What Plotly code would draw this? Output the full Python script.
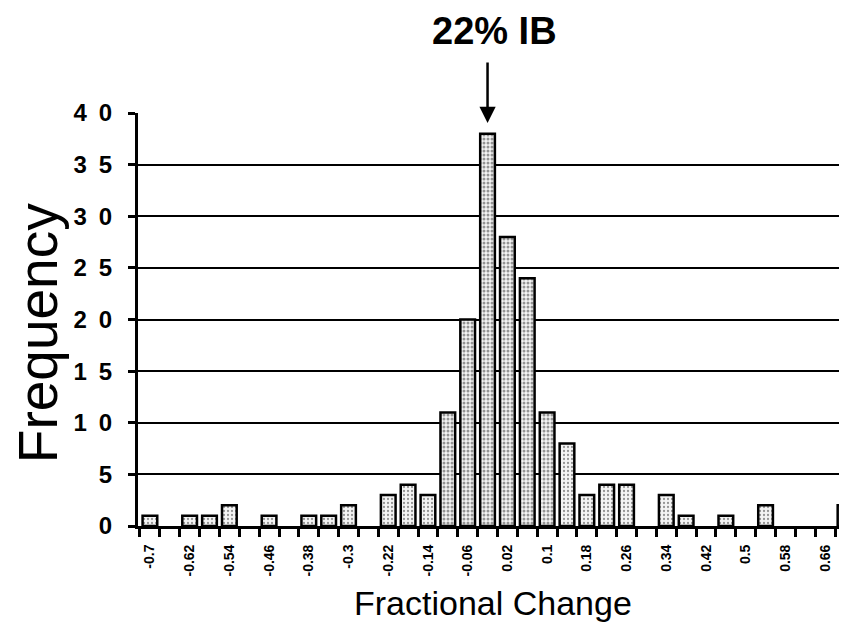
import plotly.graph_objects as go

categories = ["-0.7", "-0.66", "-0.62", "-0.58", "-0.54", "-0.5", "-0.46", "-0.42",
              "-0.38", "-0.34", "-0.3", "-0.26", "-0.22", "-0.18", "-0.14", "-0.1",
              "-0.06", "-0.02", "0.02", "0.06", "0.1", "0.14", "0.18", "0.22",
              "0.26", "0.3", "0.34", "0.38", "0.42", "0.46", "0.5", "0.54",
              "0.58", "0.62", "0.66", "0.7"]
frequency = [1, 0, 1, 1, 2, 0, 1, 0,
             1, 1, 2, 0, 3, 4, 3, 11,
             20, 38, 28, 24, 11, 8, 3, 4,
             4, 0, 3, 1, 0, 1, 0, 2,
             0, 0, 0, 2]
y_ticks = [0, 5, 10, 15, 20, 25, 30, 35, 40]
y_ticktext = ["0", "5", "1\u20020", "1\u20025", "2\u20020", "2\u20025",
              "3\u20020", "3\u20025", "4\u20020"]

FONT = "Liberation Sans, Arial, sans-serif"

pos = list(range(len(categories)))
label_pos = [p for p in pos if p % 2 == 0]
label_text = [categories[p] for p in label_pos]
boundaries = [p - 0.5 for p in pos] + [pos[-1] + 0.5]

solidity = [0.25 if v < 10 else 0.45 for v in frequency]
line_w = [0 if v == 0 else 2.5 for v in frequency]

fig = go.Figure()
fig.add_trace(go.Bar(
    x=pos, y=frequency,
    marker=dict(color="white",
                line=dict(color="black", width=line_w),
                pattern=dict(shape=".", fgcolor="#333", bgcolor="#f4f4f4",
                             size=4, solidity=solidity)),
    width=0.74,
    showlegend=False,
    hovertext=categories,
))

fig.update_layout(
    width=839, height=619,
    margin=dict(l=130, r=0, t=105, b=101),
    plot_bgcolor="white", paper_bgcolor="white",
    xaxis=dict(
        range=[-0.6, 35.1],
        tickmode="array", tickvals=label_pos, ticktext=label_text,
        ticks="outside", ticklen=8, tickwidth=0, tickcolor="white",
        ticklabelstandoff=2,
        minor=dict(tickmode="array", tickvals=boundaries, ticks="outside",
                   ticklen=8, tickwidth=3, tickcolor="black", showgrid=False),
        tickangle=-90, tickfont=dict(family=FONT, size=14, color="black", weight="bold"),
        showline=True, linecolor="black", linewidth=3,
        showgrid=False, zeroline=False,
    ),
    yaxis=dict(
        range=[0, 40], tickmode="array", tickvals=y_ticks, ticktext=y_ticktext,
        ticks="outside", ticklen=7, tickwidth=3, tickcolor="black",
        tickfont=dict(family=FONT, size=24, color="black", weight="bold"),
        ticklabelstandoff=11,
        showline=True, linecolor="black", linewidth=3,
        showgrid=True, gridcolor="black", gridwidth=2,
        zeroline=False,
    ),
    annotations=[
        dict(x=17, y=40, xref="x", yref="y", text="", showarrow=True,
             ax=0, ay=-62, axref="pixel", ayref="pixel",
             arrowhead=2, arrowsize=1.3, arrowwidth=2.5, arrowcolor="black",
             yshift=-10),
        dict(x=0.5, y=1.2, xref="paper", yref="paper", text="<b>22% IB</b>",
             showarrow=False, font=dict(family=FONT, size=38, color="black"),
             xanchor="center", yanchor="middle", xshift=2, yshift=-1),
        dict(x=0.5, y=-0.186, xref="paper", yref="paper", text="Fractional Change",
             showarrow=False, font=dict(family=FONT, size=34, color="black"),
             xanchor="center", yanchor="middle"),
        dict(x=-0.141, y=0.467, xref="paper", yref="paper", text="Frequency",
             showarrow=False, textangle=-90,
             font=dict(family=FONT, size=55, color="black"),
             xanchor="center", yanchor="middle"),
    ],
)

fig.write_html("out.html")
